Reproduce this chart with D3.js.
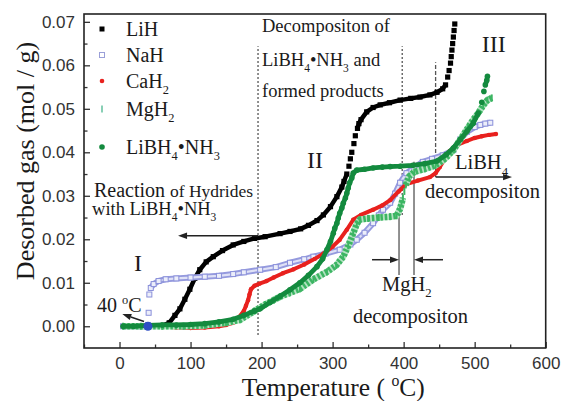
<!DOCTYPE html>
<html>
<head>
<meta charset="utf-8">
<script src="https://cdn.jsdelivr.net/npm/d3@7/dist/d3.min.js"></script>
<style>
  body { margin: 0; background: #fff; }
  svg text { font-family: "Liberation Serif", "Times New Roman", serif; fill: #1a1a1a; }
  .tick text { font-family: "Liberation Sans", Arial, sans-serif; fill: #333; }
</style>
</head>
<body>
<div class="canvas"></div>
<script>
// values: temperature (°C) and desorbed gas (mol/g)
const lihTemp = [62, 70, 78, 85, 92, 99, 106, 113, 122, 132, 145, 160, 175, 190, 205, 226, 240, 255, 266, 278, 287, 297, 306, 313, 316, 320, 323, 325, 327, 330, 332, 335, 337, 340, 348, 357, 367, 380, 395, 410, 423, 437, 447, 455, 459, 462, 464, 466, 467, 468, 469, 470, 471, 472];
const lihGas = [0.0002, 0.0008, 0.0025, 0.004, 0.0062, 0.0085, 0.011, 0.013, 0.0148, 0.016, 0.0174, 0.0187, 0.0195, 0.0202, 0.0206, 0.0213, 0.0218, 0.0224, 0.0232, 0.0243, 0.0256, 0.0275, 0.0298, 0.032, 0.0333, 0.035, 0.0368, 0.0385, 0.04, 0.042, 0.0438, 0.0455, 0.0466, 0.0475, 0.0493, 0.0503, 0.0509, 0.0514, 0.052, 0.0524, 0.0527, 0.0532, 0.0538, 0.0546, 0.0555, 0.0573, 0.0588, 0.0605, 0.062, 0.0635, 0.065, 0.0665, 0.068, 0.0695];

const nahTemp = [5, 15, 25, 35, 40, 41, 42, 44, 48, 55, 65, 80, 100, 120, 140, 160, 175, 198, 220, 240, 260, 273, 290, 310, 325, 334, 345, 357, 365, 371, 381, 388, 395, 404, 415, 427, 440, 455, 470, 480, 489, 500, 508, 515, 522];
const nahGas = [0, 0, 0, 0, 0.0003, 0.0031, 0.0073, 0.0088, 0.0097, 0.0104, 0.0108, 0.011, 0.0112, 0.0114, 0.0116, 0.012, 0.0124, 0.013, 0.0136, 0.0146, 0.0154, 0.016, 0.0167, 0.0176, 0.0188, 0.0199, 0.0215, 0.0237, 0.0255, 0.0268, 0.0284, 0.0305, 0.033, 0.0352, 0.0365, 0.0378, 0.0385, 0.0393, 0.0405, 0.043, 0.0447, 0.0458, 0.0463, 0.0466, 0.0468];

const cahTemp = [5, 30, 60, 80, 100, 120, 140, 150, 160, 168, 175, 178, 181, 183, 185, 190, 197, 207, 217, 230, 245, 260, 275, 287, 300, 310, 320, 329, 340, 357, 370, 381, 393, 404, 420, 437, 445, 451, 458, 465, 477, 489, 500, 510, 520, 530];
const cahGas = [0, 0, 0, -0.0003, -0.0004, -0.0003, 0, 0.0003, 0.0008, 0.002, 0.0035, 0.0047, 0.006, 0.0073, 0.0085, 0.0093, 0.0098, 0.0104, 0.0112, 0.0122, 0.0131, 0.0142, 0.0155, 0.0167, 0.0183, 0.0199, 0.0222, 0.0245, 0.0256, 0.0268, 0.0278, 0.029, 0.031, 0.0327, 0.0335, 0.0343, 0.0352, 0.0366, 0.0385, 0.0403, 0.0418, 0.0426, 0.0433, 0.0437, 0.044, 0.0442];

const mghTemp = [5, 30, 60, 90, 120, 150, 170, 190, 205, 217, 226, 240, 254, 273, 292, 305, 315, 322, 329, 334, 338, 350, 365, 381, 390, 395, 397, 399, 401, 403, 408, 415, 430, 445, 458, 470, 480, 490, 498, 505, 512, 518, 524];
const mghGas = [0, 0, 0, 0, 0.0002, 0.0008, 0.0015, 0.0035, 0.005, 0.006, 0.0068, 0.0077, 0.0086, 0.0108, 0.0125, 0.014, 0.016, 0.0185, 0.0214, 0.0235, 0.0245, 0.0248, 0.025, 0.0252, 0.0254, 0.027, 0.0282, 0.0295, 0.031, 0.0325, 0.0345, 0.0355, 0.0362, 0.037, 0.0385, 0.0405, 0.043, 0.0455, 0.0475, 0.049, 0.0508, 0.052, 0.0525];

const abTemp = [5, 20, 40, 60, 80, 100, 120, 140, 160, 175, 190, 198, 212, 226, 240, 254, 266, 278, 286, 292, 297, 301, 303, 306, 308, 310, 313, 315, 318, 320, 322, 324, 327, 329, 334, 345, 357, 370, 381, 395, 413, 430, 447, 460, 470, 480, 489, 498, 505, 510, 513, 515, 517, 518];
const abGas = [0, 0, 0.0002, 0.0003, 0.0003, 0.0004, 0.0006, 0.001, 0.0016, 0.0025, 0.0035, 0.004, 0.0055, 0.0069, 0.0084, 0.01, 0.0117, 0.0137, 0.0155, 0.0176, 0.0195, 0.0214, 0.0225, 0.0237, 0.0249, 0.026, 0.0272, 0.0283, 0.0295, 0.0306, 0.0318, 0.033, 0.0341, 0.0352, 0.0359, 0.0361, 0.0364, 0.0366, 0.0367, 0.0368, 0.037, 0.0374, 0.038, 0.0395, 0.041, 0.043, 0.0448, 0.0467, 0.049, 0.0515, 0.054, 0.0555, 0.0565, 0.0575];

const seriesNames = ['LiH', 'NaH', 'CaH_2', 'MgH_2', 'LiBH_4•NH_3'];
const xTicks = [0, 100, 200, 300, 400, 500, 600];
const yTicks = [0, 0.01, 0.02, 0.03, 0.04, 0.05, 0.06, 0.07];


const width = 563,
    height = 401;
let margin = { top: 14, right: 17.3, bottom: 53, left: 84 };
let graphWidth = width - margin.left - margin.right;
let graphHeight = height - margin.top - margin.bottom;

const svg = d3.select('.canvas').append('svg')
    .attr('width', width)
    .attr('height', height);

const graph = svg.append('g')
    .attr('transform', `translate(${margin.left}, ${margin.top})`);

// Scales
const x = d3.scaleLinear().domain([-50, 600]).range([0, graphWidth]);
const y = d3.scaleLinear().domain([-0.005, 0.0718]).range([graphHeight, 0]);

// sub/superscript text: "_2" -> subscript, "^o" -> superscript
function richText(sel, str, fs) {
    let shift = 0;
    str.split(/([_^].)/).forEach(part => {
        if (!part) return;
        let target = 0, size = fs, txt = part;
        if (part[0] === '_') { target = fs * 0.33; size = fs * 0.62; txt = part[1]; }
        else if (part[0] === '^') { target = -fs * 0.4; size = fs * 0.62; txt = part[1]; }
        sel.append('tspan').attr('dy', target - shift).attr('font-size', size).text(txt);
        shift = target;
    });
    return sel;
}

function label(t, v, str, fs) {
    const el = graph.append('text')
        .attr('x', x(t))
        .attr('y', y(v))
        .attr('font-size', fs);
    return richText(el, str, fs);
}

function arrow(t0, v0, t1, v1) {
    const x0 = x(t0), y0 = y(v0), x1 = x(t1), y1 = y(v1);
    const a = Math.atan2(y1 - y0, x1 - x0);
    const len = 9, w = 3.2;
    const bx = x1 - len * Math.cos(a), by = y1 - len * Math.sin(a);
    graph.append('line')
        .attr('x1', x0).attr('y1', y0).attr('x2', bx).attr('y2', by)
        .attr('stroke', '#222').attr('stroke-width', 1.5);
    graph.append('path')
        .attr('d', `M${x1},${y1}L${bx - w * Math.sin(a)},${by + w * Math.cos(a)}L${bx + w * Math.sin(a)},${by - w * Math.cos(a)}Z`)
        .attr('fill', '#222');
}

function vline(t, v0, v1, dash, sw) {
    graph.append('line')
        .attr('x1', x(t)).attr('x2', x(t))
        .attr('y1', y(v0)).attr('y2', y(v1))
        .attr('stroke', '#555')
        .attr('stroke-width', sw)
        .attr('stroke-dasharray', dash);
}

// Axis ticks (inward)
const xAxis = d3.axisBottom(x).tickValues(xTicks).tickSize(-6).tickPadding(9).tickFormat(d3.format('d'));
const xMinor = d3.axisBottom(x).tickValues([-50, 50, 150, 250, 350, 450, 550]).tickSize(-3.5).tickFormat('');
const yAxis = d3.axisLeft(y).tickValues(yTicks).tickSize(-6).tickPadding(9).tickFormat(d3.format('.2f'));
const yMinor = d3.axisLeft(y).tickValues([0.005, 0.015, 0.025, 0.035, 0.045, 0.055, 0.065]).tickSize(-3.5).tickFormat('');

[xAxis, xMinor].forEach(ax => {
    graph.append('g')
        .attr('transform', `translate(0, ${graphHeight})`)
        .call(ax);
});
[yAxis, yMinor].forEach(ax => {
    graph.append('g').call(ax);
});
graph.selectAll('.domain').remove();
graph.selectAll('.tick line').attr('stroke', '#333').attr('stroke-width', 1.3);
graph.selectAll('.tick text').attr('font-size', 17);

// annotation lines
vline(195, -0.002, 0.0644, '2,2', 1.3);
vline(398, 0.0256, 0.0644, '2,2', 1.3);
vline(445, 0.0343, 0.0607, '4,2', 1.3);
vline(393.5, 0.0118, 0.0256, null, 1.3);
vline(414.6, 0.0118, 0.0378, null, 1.3);

// series: markers everywhere, connecting stroke only where samples are dense
// (steep jumps show as separate markers, like the original scatter)
const zip = (a, b) => a.map((t, i) => [t, b[i]]);
function runs(pts) {
    const out = [[pts[0]]];
    for (let i = 1; i < pts.length; i++) {
        const dx = Math.abs(x(pts[i][0]) - x(pts[i - 1][0]));
        const dy = Math.abs(y(pts[i][1]) - y(pts[i - 1][1]));
        if (dy > 6 && dy > 3 * dx) out.push([pts[i]]);
        else out[out.length - 1].push(pts[i]);
    }
    return out.filter(r => r.length > 1);
}
const line = d3.line()
    .x(d => x(d[0]))
    .y(d => y(d[1]));

function strokeRuns(pts, color, sw, dash) {
    runs(pts).forEach(r => {
        graph.append('path').datum(r)
            .attr('fill', 'none').attr('stroke', color).attr('stroke-width', sw)
            .attr('stroke-dasharray', dash || null)
            .attr('stroke-linejoin', 'round')
            .attr('d', line);
    });
}

// LiH
const lih = zip(lihTemp, lihGas);
strokeRuns(lih, '#000', 4.5);
graph.selectAll('.lih').data(lih).enter().append('rect')
    .attr('x', d => x(d[0]) - 2.6).attr('y', d => y(d[1]) - 2.6)
    .attr('width', 5.2).attr('height', 5.2).attr('fill', '#000');

// NaH
const nah = zip(nahTemp, nahGas);
strokeRuns(nah, '#959ade', 6);
strokeRuns(nah, '#dfe1f6', 2.2);
graph.selectAll('.nah').data(nah).enter().append('rect')
    .attr('x', d => x(d[0]) - 2.5).attr('y', d => y(d[1]) - 2.5)
    .attr('width', 5).attr('height', 5)
    .attr('fill', '#eceefa').attr('stroke', '#8a90da').attr('stroke-width', 1);

// CaH2
const cah = zip(cahTemp, cahGas);
strokeRuns(cah, '#e8211e', 4);
graph.selectAll('.cah').data(cah).enter().append('circle')
    .attr('cx', d => x(d[0])).attr('cy', d => y(d[1]))
    .attr('r', 2.2).attr('fill', '#e8211e');

// MgH2
const mgh = zip(mghTemp, mghGas);
strokeRuns(mgh, '#b4e2c2', 6.5);
strokeRuns(mgh, '#3cb563', 6.5, '2.5,1.8');
graph.selectAll('.mgh').data(mgh).enter().append('rect')
    .attr('x', d => x(d[0]) - 1).attr('y', d => y(d[1]) - 3.5)
    .attr('width', 2).attr('height', 7).attr('fill', '#3cb563');

// LiBH4·NH3
const ab = zip(abTemp, abGas);
strokeRuns(ab, '#138a3e', 4.8);
graph.selectAll('.ab').data(ab).enter().append('circle')
    .attr('cx', d => x(d[0])).attr('cy', d => y(d[1]))
    .attr('r', 2.8).attr('fill', '#138a3e');

// 40 °C marker
graph.append('circle')
    .attr('cx', x(40)).attr('cy', y(0))
    .attr('r', 4.5).attr('fill', '#2f4fc4');

// arrows
arrow(195, 0.0208, 82.4, 0.0208);
arrow(445, 0.0343, 552.6, 0.0343);
arrow(355.5, 0.0153, 393.5, 0.0153);
arrow(455.4, 0.0153, 414.6, 0.0153);
arrow(34.5, 0.0011, 3.9, 0.0028);

// text annotations
label(-36, 0.0297, 'Reaction', 20);
label(71, 0.0297, 'of Hydrides', 17.5);
label(-38.7, 0.0256, 'with LiBH_4•NH_3', 18.5);
label(20.4, 0.0126, 'I', 24);
label(-31.7, 0.0033, '40 ^oC', 20);
label(200.6, 0.0677, 'Decompositon of', 18.5);
label(200.6, 0.0599, 'LiBH_4•NH_3  and', 18.5);
label(200.6, 0.0527, 'formed products', 18.5);
label(264, 0.0364, 'II', 24);
label(510, 0.063, 'III', 24);
label(472.2, 0.0362, 'LiBH_4', 20.5);
label(430, 0.0295, 'decompositon', 20.5);
label(369.6, 0.0082, 'MgH_2', 20.5);
label(328.6, 0.0008, 'decompositon', 20.5);

// legend
const legendY = [29, 55, 81, 109, 147];
const legend = svg.append('g');
legendY.forEach((ly, i) => {
    const mx = 102;
    if (i === 0) legend.append('rect').attr('x', mx - 2.5).attr('y', ly - 2.5).attr('width', 5).attr('height', 5).attr('fill', '#000');
    if (i === 1) legend.append('rect').attr('x', mx - 2.5).attr('y', ly - 2.5).attr('width', 5).attr('height', 5).attr('fill', '#fff').attr('stroke', '#9a9fd8');
    if (i === 2) legend.append('circle').attr('cx', mx).attr('cy', ly).attr('r', 2.3).attr('fill', '#e8211e');
    if (i === 3) legend.append('rect').attr('x', mx - 0.8).attr('y', ly - 3.5).attr('width', 1.6).attr('height', 7).attr('fill', '#6cc4a4');
    if (i === 4) legend.append('circle').attr('cx', mx).attr('cy', ly).attr('r', 2.8).attr('fill', '#138a3e');
    const t = legend.append('text').attr('x', 126).attr('y', ly + 6.5).attr('font-size', 20);
    richText(t, seriesNames[i], 20);
});

// frame
svg.append('rect')
    .attr('x', margin.left).attr('y', margin.top)
    .attr('width', graphWidth).attr('height', graphHeight)
    .attr('fill', 'none').attr('stroke', '#222').attr('stroke-width', 1.6);

// axis titles
const xt = svg.append('text')
    .attr('x', margin.left + x(172))
    .attr('y', 396)
    .attr('font-size', 25.5);
richText(xt, 'Temperature ( ^oC)', 25.5);

svg.append('text')
    .attr('transform', 'translate(34, 161) rotate(-90)')
    .attr('text-anchor', 'middle')
    .attr('font-size', 26)
    .text('Desorbed gas (mol / g)');
</script>
</body>
</html>
